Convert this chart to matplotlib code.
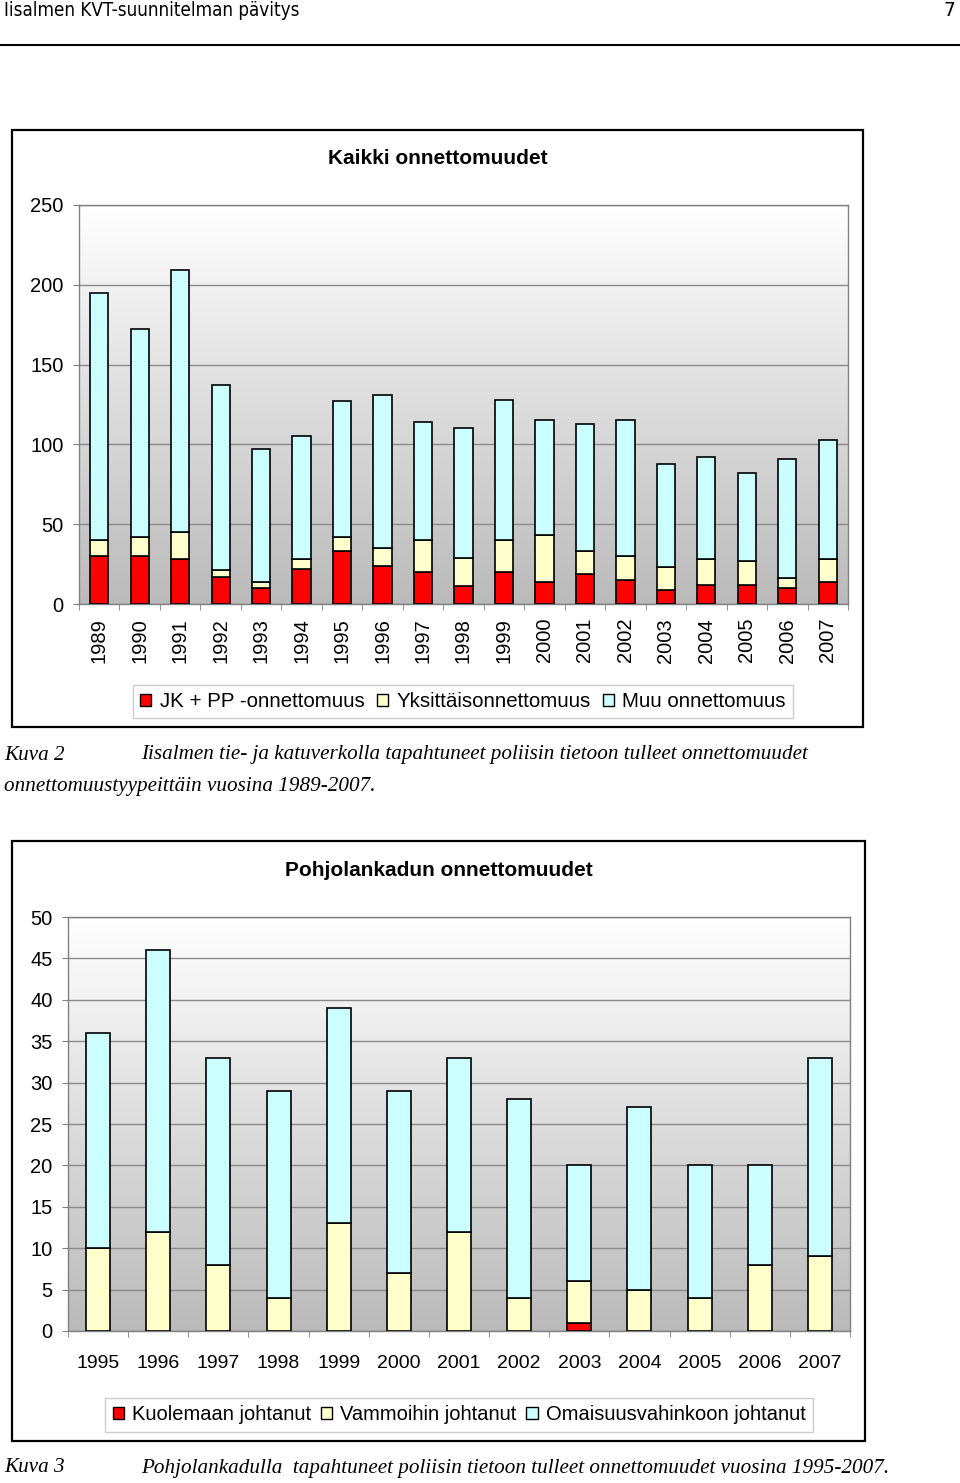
import numpy as np
import matplotlib
matplotlib.use('Agg')
import matplotlib.pyplot as plt
from matplotlib.patches import Rectangle, Patch
from matplotlib.lines import Line2D
from matplotlib.colors import LinearSegmentedColormap

# chart 1: Kaikki onnettomuudet
years_all = list(range(1989, 2008))
jk_pp = [30, 30, 28, 17, 10, 22, 33, 24, 20, 11, 20, 14, 19, 15, 9, 12, 12, 10, 14]
yksittais = [10, 12, 17, 4, 4, 6, 9, 11, 20, 18, 20, 29, 14, 15, 14, 16, 15, 6, 14]
muu = [155, 130, 164, 116, 83, 77, 85, 96, 74, 81, 88, 72, 80, 85, 65, 64, 55, 75, 75]

# chart 2: Pohjolankadun onnettomuudet
years_pk = list(range(1995, 2008))
kuolema = [0, 0, 0, 0, 0, 0, 0, 0, 1, 0, 0, 0, 0]
vammat = [10, 12, 8, 4, 13, 7, 12, 4, 5, 5, 4, 8, 9]
omaisuus = [26, 34, 25, 25, 26, 22, 21, 24, 14, 22, 16, 12, 24]

RED = '#ff0000'
YEL = '#ffffcc'
BLU = '#ccffff'
SANS = 'Liberation Sans'
SERIF = 'Liberation Serif'

W, H = 960, 1483
fig = plt.figure(figsize=(W / 100, H / 100), dpi=100)
fig.patch.set_facecolor('white')

def fx(px):
    return px / W

def fy(py):
    return 1 - py / H

grad = LinearSegmentedColormap.from_list('g', ['#bababa', '#ffffff'])

def make_axes(left, top, right, bottom):
    return fig.add_axes([fx(left), fy(bottom), fx(right - left), (bottom - top) / H])

def style_axes(ax, n, ymax, ystep):
    ax.imshow(np.linspace(1, 0, 256).reshape(-1, 1), cmap=grad, extent=[0, 1, 0, 1],
              transform=ax.transAxes, aspect='auto', zorder=-2)
    ax.set_xlim(-0.5, n - 0.5)
    ax.set_ylim(0, ymax)
    ax.set_yticks(np.arange(0, ymax + 1, ystep))
    ax.yaxis.grid(True, color='#8a8a8a', lw=1)
    ax.set_axisbelow(True)
    for s in ax.spines.values():
        s.set_color('#808080')
        s.set_linewidth(1)
    ax.set_xticks(np.arange(-0.5, n, 1.0), minor=True)
    ax.tick_params(axis='x', which='minor', length=4, color='#808080')
    ax.tick_params(axis='y', length=4, color='#808080', pad=7, labelsize=14.5)
    for t in ax.get_yticklabels():
        t.set_fontfamily(SANS)

def stack(ax, x, series, colors, width):
    bottom = np.zeros(len(x))
    for vals, c in zip(series, colors):
        vals = np.array(vals, dtype=float)
        mask = vals > 0
        ax.bar(x[mask], vals[mask], width, bottom=bottom[mask], color=c,
               edgecolor='black', linewidth=1.2, zorder=3)
        bottom += vals

# header
fig.text(fx(4), fy(10), 'Iisalmen KVT-suunnitelman pävitys', fontsize=13.5,
         family='DejaVu Sans', ha='left', va='center', stretch='condensed')
fig.text(fx(955), fy(11), '7', fontsize=13.5, family='DejaVu Sans', ha='right', va='center')
fig.add_artist(Line2D([0, 1], [fy(45), fy(45)], color='black', lw=1.5))

# frames
for l, t, r, b in [(11.5, 129.5, 862.5, 726.5), (11.5, 841, 864.5, 1440.5)]:
    fig.add_artist(Rectangle((fx(l), fy(b)), fx(r - l), (b - t) / H, fill=False,
                             edgecolor='black', lw=1.6))

# chart 1
ax1 = make_axes(79, 205, 848, 604)
style_axes(ax1, len(years_all), 250, 50)
x1 = np.arange(len(years_all))
stack(ax1, x1, [jk_pp, yksittais, muu], [RED, YEL, BLU], 0.45)
ax1.set_xticks(x1)
ax1.set_xticklabels([str(y) for y in years_all], rotation=90, fontsize=14.5, family=SANS)
ax1.tick_params(axis='x', which='major', length=0, pad=10)
fig.text(fx(438), fy(158), 'Kaikki onnettomuudet', fontsize=15, weight='bold',
         family=SANS, ha='center', va='center')

handles1 = [Patch(facecolor=c, edgecolor='black', lw=1) for c in [RED, YEL, BLU]]
leg1 = fig.legend(handles1, ['JK + PP -onnettomuus', 'Yksittäisonnettomuus', 'Muu onnettomuus'],
                  loc='center', bbox_to_anchor=(fx(463), fy(701.5)), ncol=3,
                  prop={'family': SANS, 'size': 14.8}, frameon=True, fancybox=False,
                  edgecolor='#c0c0c0', handlelength=0.55, handleheight=0.55,
                  handletextpad=0.4, columnspacing=0.6, borderpad=0.35)
leg1.get_frame().set_linewidth(1)

# caption 2
fig.text(fx(4), fy(755), 'Kuva 2', fontsize=15.2, style='italic', family=SERIF, va='center')
fig.text(fx(141), fy(755),
         'Iisalmen tie- ja katuverkolla tapahtuneet poliisin tietoon tulleet onnettomuudet',
         fontsize=15.2, style='italic', family=SERIF, va='center')
fig.text(fx(4), fy(787), 'onnettomuustyypeittäin vuosina 1989-2007.', fontsize=15.2,
         style='italic', family=SERIF, va='center')

# chart 2
ax2 = make_axes(68, 917, 850, 1331)
style_axes(ax2, len(years_pk), 50, 5)
x2 = np.arange(len(years_pk))
stack(ax2, x2, [kuolema, vammat, omaisuus], [RED, YEL, BLU], 0.4)
ax2.set_xticks(x2)
ax2.set_xticklabels([str(y) for y in years_pk], fontsize=14, family=SANS)
ax2.tick_params(axis='x', which='major', length=0, pad=17)
fig.text(fx(439), fy(870), 'Pohjolankadun onnettomuudet', fontsize=15, weight='bold',
         family=SANS, ha='center', va='center')

handles2 = [Patch(facecolor=c, edgecolor='black', lw=1) for c in [RED, YEL, BLU]]
leg2 = fig.legend(handles2, ['Kuolemaan johtanut', 'Vammoihin johtanut', 'Omaisuusvahinkoon johtanut'],
                  loc='center', bbox_to_anchor=(fx(459), fy(1415)), ncol=3,
                  prop={'family': SANS, 'size': 14.5}, frameon=True, fancybox=False,
                  edgecolor='#c0c0c0', handlelength=0.55, handleheight=0.55,
                  handletextpad=0.4, columnspacing=0.5, borderpad=0.35)
leg2.get_frame().set_linewidth(1)

# caption 3
fig.text(fx(4), fy(1468), 'Kuva 3', fontsize=15.2, style='italic', family=SERIF, va='center')
fig.text(fx(141), fy(1468),
         'Pohjolankadulla  tapahtuneet poliisin tietoon tulleet onnettomuudet vuosina 1995-2007.',
         fontsize=15.2, style='italic', family=SERIF, va='center')

fig.savefig('out.png', dpi=100)
